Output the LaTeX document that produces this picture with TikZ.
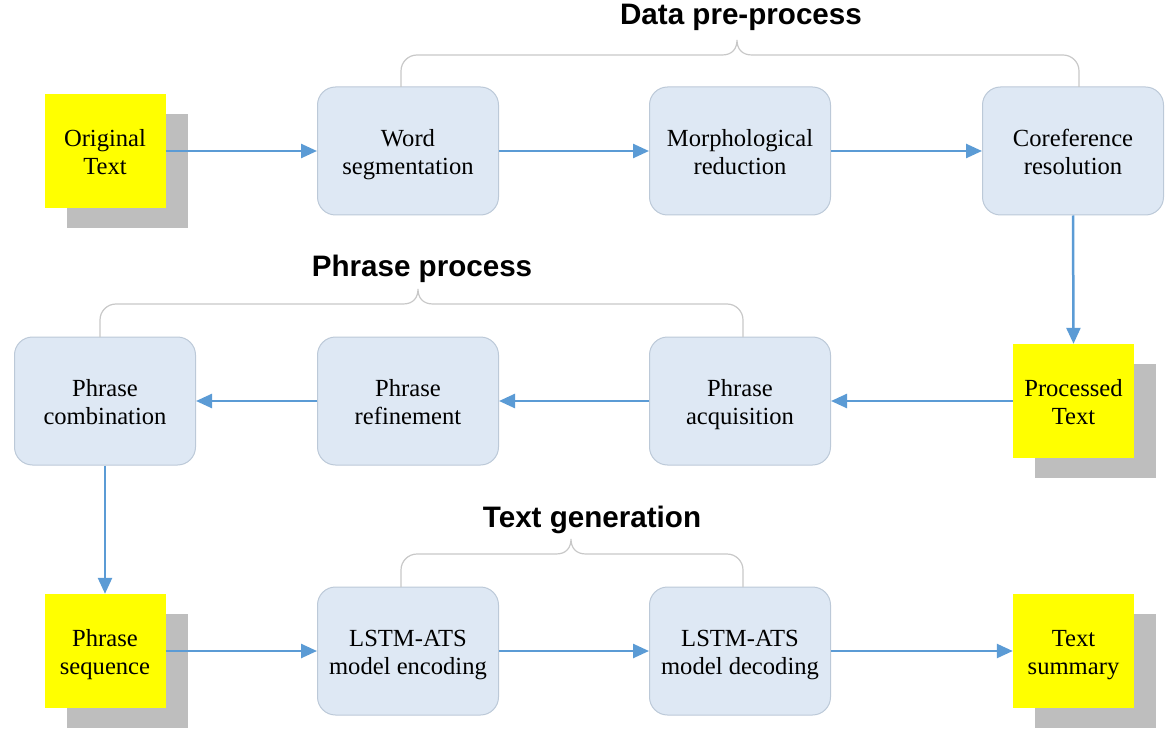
\documentclass[tikz,border=0pt]{standalone}
\usepackage{fontspec}
\setmainfont{Liberation Serif}
\newfontfamily\titlefont{Liberation Sans}
\usetikzlibrary{arrows.meta}
\definecolor{boxfill}{HTML}{DEE8F4}
\definecolor{boxline}{HTML}{BCC9D8}
\definecolor{arrowc}{HTML}{5B9BD5}
\definecolor{shadowc}{HTML}{BEBEBE}
\definecolor{bracec}{HTML}{C8C8C8}
\definecolor{yelc}{HTML}{FFFF00}
\newcommand\twoln[2]{\rule{0pt}{27.6pt}#1\\#2\rule[-8.4pt]{0pt}{8.4pt}}
\begin{document}
\begin{tikzpicture}[x=1pt,y=-1pt,
  txt/.style={align=center, inner sep=0pt, font=\fontsize{24.6}{28}\selectfont},
  proc/.style={txt, draw=boxline, line width=1pt, fill=boxfill, rounded corners=18pt,
    minimum width=181pt, minimum height=128pt},
  yel/.style={txt, fill=yelc, minimum width=121pt, minimum height=114pt},
  shd/.style={fill=shadowc, minimum width=121pt, minimum height=114pt, inner sep=0pt},
  ttl/.style={anchor=base, font=\titlefont\bfseries\fontsize{29.6}{32}\selectfont},
  flow/.style={draw=arrowc, line width=2.5pt, -{Triangle[length=16pt,width=14pt]}},
  brace/.style={draw=bracec, line width=1.2pt}
]
\useasboundingbox (0,0) rectangle (1174,735);

% shadows
\node[shd] (s1) at (127,171) {};
\node[shd] (s2) at (1095.5,421) {};
\node[shd] (s3) at (127,671) {};
\node[shd] (s4) at (1095.5,671) {};

% row 1
\node[yel] (orig) at (105,151) {\twoln{Original}{Text}};
\node[proc] (word) at (408,151) {\twoln{Word}{segmentation}};
\node[proc] (morph) at (740,151) {\twoln{Morphological}{reduction}};
\node[proc] (coref) at (1073,151) {\twoln{Coreference}{resolution}};

% row 2
\node[yel] (proc) at (1073.5,401) {\twoln{Processed}{Text}};
\node[proc] (acq) at (740,401) {\twoln{Phrase}{acquisition}};
\node[proc] (ref) at (408,401) {\twoln{Phrase}{refinement}};
\node[proc] (comb) at (105,401) {\twoln{Phrase}{combination}};

% row 3
\node[yel] (seq) at (105,651) {\twoln{Phrase}{sequence}};
\node[proc] (enc) at (408,651) {\twoln{LSTM-ATS}{model encoding}};
\node[proc] (dec) at (740,651) {\twoln{LSTM-ATS}{model decoding}};
\node[yel] (summ) at (1073.5,651) {\twoln{Text}{summary}};

% arrows
\draw[flow] (orig.east) -- (word.west);
\draw[flow] (word.east) -- (morph.west);
\draw[flow] (morph.east) -- (coref.west);
\draw[flow] (coref.south) -- (proc.north);
\draw[flow] (proc.west) -- (acq.east);
\draw[flow] (acq.west) -- (ref.east);
\draw[flow] (ref.west) -- (comb.east);
\draw[flow] (comb.south) -- (seq.north);
\draw[flow] (seq.east) -- (enc.west);
\draw[flow] (enc.east) -- (dec.west);
\draw[flow] (dec.east) -- (summ.west);

% braces
\draw[brace, rounded corners=16pt] (401,87) -- (401,55) -- (722,55);
\draw[brace] (722,55) .. controls (732,55) and (737,49) .. (737,40)
  .. controls (737,49) and (742,55) .. (752,55);
\draw[brace, rounded corners=16pt] (752,55) -- (1079,55) -- (1079,87);

\draw[brace, rounded corners=16pt] (100,337) -- (100,304) -- (403,304);
\draw[brace] (403,304) .. controls (413,304) and (418,298) .. (418,289)
  .. controls (418,298) and (423,304) .. (433,304);
\draw[brace, rounded corners=16pt] (433,304) -- (743,304) -- (743,337);

\draw[brace, rounded corners=16pt] (401,587) -- (401,554) -- (556,554);
\draw[brace] (556,554) .. controls (566,554) and (571,548) .. (571,539)
  .. controls (571,548) and (576,554) .. (586,554);
\draw[brace, rounded corners=16pt] (586,554) -- (743,554) -- (743,587);

% titles
\node[ttl] (t1) at (741,25) {Data pre-process};
\node[ttl] (t2) at (422,276) {Phrase process};
\node[ttl] (t3) at (592,527) {Text generation};
\end{tikzpicture}
\end{document}
